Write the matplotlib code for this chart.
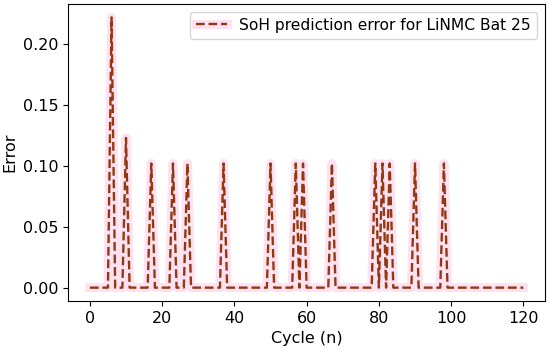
import matplotlib
matplotlib.use("Agg")
import matplotlib.pyplot as plt
import numpy as np

# Cycles and the spikes of the prediction error (all other cycles are 0)
cycles = np.arange(0, 121)
spike_cycles = [6, 10, 17, 23, 27, 37, 50, 57, 59, 67, 79, 81, 83, 90, 98]
spike_errors = [0.222, 0.123, 0.102, 0.102, 0.102, 0.102, 0.102, 0.102,
                0.102, 0.102, 0.102, 0.102, 0.102, 0.102, 0.102]

error = np.zeros(len(cycles))
for c, e in zip(spike_cycles, spike_errors):
    error[c] = e

fig, ax = plt.subplots(figsize=(5.5, 3.51), dpi=100)

# light pink halo under the dashed line
halo, = ax.plot(cycles, error, color='#ffe2f1', linewidth=6.5, zorder=1)
line, = ax.plot(cycles, error, color='#923812', linestyle='--', linewidth=1.7, zorder=2)

ax.set_xlabel('Cycle (n)', fontsize=11.5)
ax.set_ylabel('Error', fontsize=11.5)
ax.set_xticks([0, 20, 40, 60, 80, 100, 120])
ax.set_yticks([0.0, 0.05, 0.10, 0.15, 0.20])
ax.tick_params(labelsize=11.5)
ax.legend([(halo, line)], ['SoH prediction error for LiNMC Bat 25'],
          loc='upper right', fontsize=11.2)

fig.subplots_adjust(left=0.124, right=0.991, top=0.989, bottom=0.142)
fig.savefig('out.png', dpi=100)
